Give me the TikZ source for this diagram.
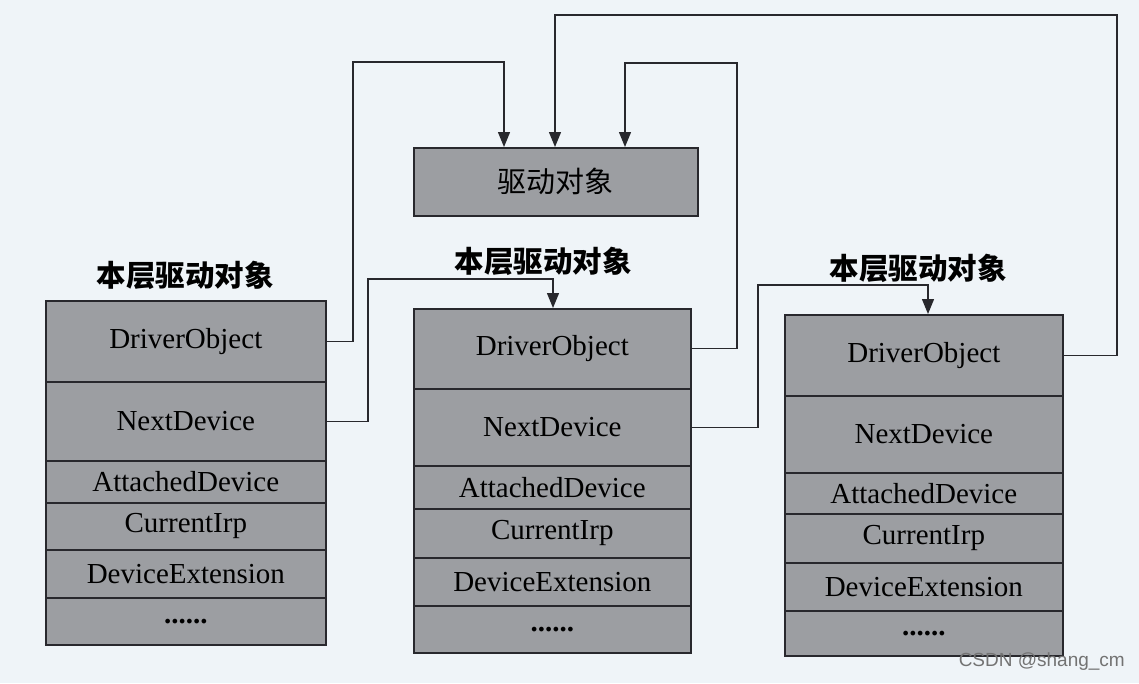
\documentclass[tikz,border=0pt]{standalone}
\usepackage{fontspec}
\setmainfont{Liberation Serif}
\newfontfamily\cjk{Noto Sans CJK SC}
\newfontfamily\wmfont{Liberation Sans}
\usetikzlibrary{arrows.meta}
\definecolor{bgcol}{RGB}{239,244,248}
\definecolor{boxgray}{RGB}{156,158,162}
\definecolor{linecol}{RGB}{40,40,45}
\tikzset{
  fieldrow/.style={draw=linecol, line width=1.6pt, fill=boxgray, anchor=north west, inner sep=0pt,
    font=\fontsize{29}{31}\selectfont, text=black},
  conn/.style={draw=linecol, line width=1.3pt, -{Triangle[length=15pt,width=12pt]}},
  layerlabel/.style={font=\cjk\bfseries\fontsize{29.5}{31}\selectfont, inner sep=0pt},
}
\begin{document}
\begin{tikzpicture}[x=1pt,y=-1pt]
\fill[bgcol] (0,0) rectangle (1139,683);
\useasboundingbox (0,0) rectangle (1139,683);

% top driver object
\node[fieldrow, minimum width=284pt, minimum height=68pt, font=\cjk\fontsize{29}{31}\selectfont] (top) at (413,147) {驱动对象};

% left stack
\node[fieldrow, minimum width=280pt, minimum height=81pt] (L1) at (45,300) {DriverObject};
\node[fieldrow, minimum width=280pt, minimum height=79pt] (L2) at (45,381) {NextDevice};
\node[fieldrow, minimum width=280pt, minimum height=42pt] (L3) at (45,460) {AttachedDevice};
\node[fieldrow, minimum width=280pt, minimum height=47pt] (L4) at (45,502) {CurrentIrp};
\node[fieldrow, minimum width=280pt, minimum height=48pt] (L5) at (45,549) {DeviceExtension};
\node[fieldrow, minimum width=280pt, minimum height=47pt] (L6) at (45,597) {\textbf{......}};

% middle stack
\node[fieldrow, minimum width=277pt, minimum height=80pt] (M1) at (413,308) {DriverObject};
\node[fieldrow, minimum width=277pt, minimum height=77pt] (M2) at (413,388) {NextDevice};
\node[fieldrow, minimum width=277pt, minimum height=43pt] (M3) at (413,465) {AttachedDevice};
\node[fieldrow, minimum width=277pt, minimum height=49pt] (M4) at (413,508) {CurrentIrp};
\node[fieldrow, minimum width=277pt, minimum height=48pt] (M5) at (413,557) {DeviceExtension};
\node[fieldrow, minimum width=277pt, minimum height=47pt] (M6) at (413,605) {\textbf{......}};

% right stack
\node[fieldrow, minimum width=278pt, minimum height=81pt] (R1) at (784,314) {DriverObject};
\node[fieldrow, minimum width=278pt, minimum height=77pt] (R2) at (784,395) {NextDevice};
\node[fieldrow, minimum width=278pt, minimum height=41pt] (R3) at (784,472) {AttachedDevice};
\node[fieldrow, minimum width=278pt, minimum height=49pt] (R4) at (784,513) {CurrentIrp};
\node[fieldrow, minimum width=278pt, minimum height=48pt] (R5) at (784,562) {DeviceExtension};
\node[fieldrow, minimum width=278pt, minimum height=45pt] (R6) at (784,610) {\textbf{......}};

% labels
\node[layerlabel] (lab1) at (185,275) {本层驱动对象};
\node[layerlabel] (lab2) at (543,261) {本层驱动对象};
\node[layerlabel] (lab3) at (918,268) {本层驱动对象};

% connector corners
\coordinate (c1) at (353,62);   \coordinate (c1t) at (504,62);
\coordinate (c2) at (368,279);  \coordinate (c2t) at (553,279);
\coordinate (c3) at (737,63);   \coordinate (c3t) at (625,63);
\coordinate (c4) at (758,285);  \coordinate (c4t) at (928,285);
\coordinate (c5) at (1117,15);  \coordinate (c5t) at (555,15);

\draw[conn] (L1.east) -| (c1) -- (c1t) -- (c1t |- top.north);
\draw[conn] (L2.east) -| (c2) -- (c2t) -- (c2t |- M1.north);
\draw[conn] (M1.east) -| (c3) -- (c3t) -- (c3t |- top.north);
\draw[conn] (M2.east) -| (c4) -- (c4t) -- (c4t |- R1.north);
\draw[conn] (R1.east) -| (c5) -- (c5t) -- (c5t |- top.north);

% watermark
\node[font=\wmfont\fontsize{19}{21}\selectfont, text=black!55, anchor=east, inner sep=0pt] (wm) at (1125,662) {CSDN @shang\_cm};
\end{tikzpicture}
\end{document}
